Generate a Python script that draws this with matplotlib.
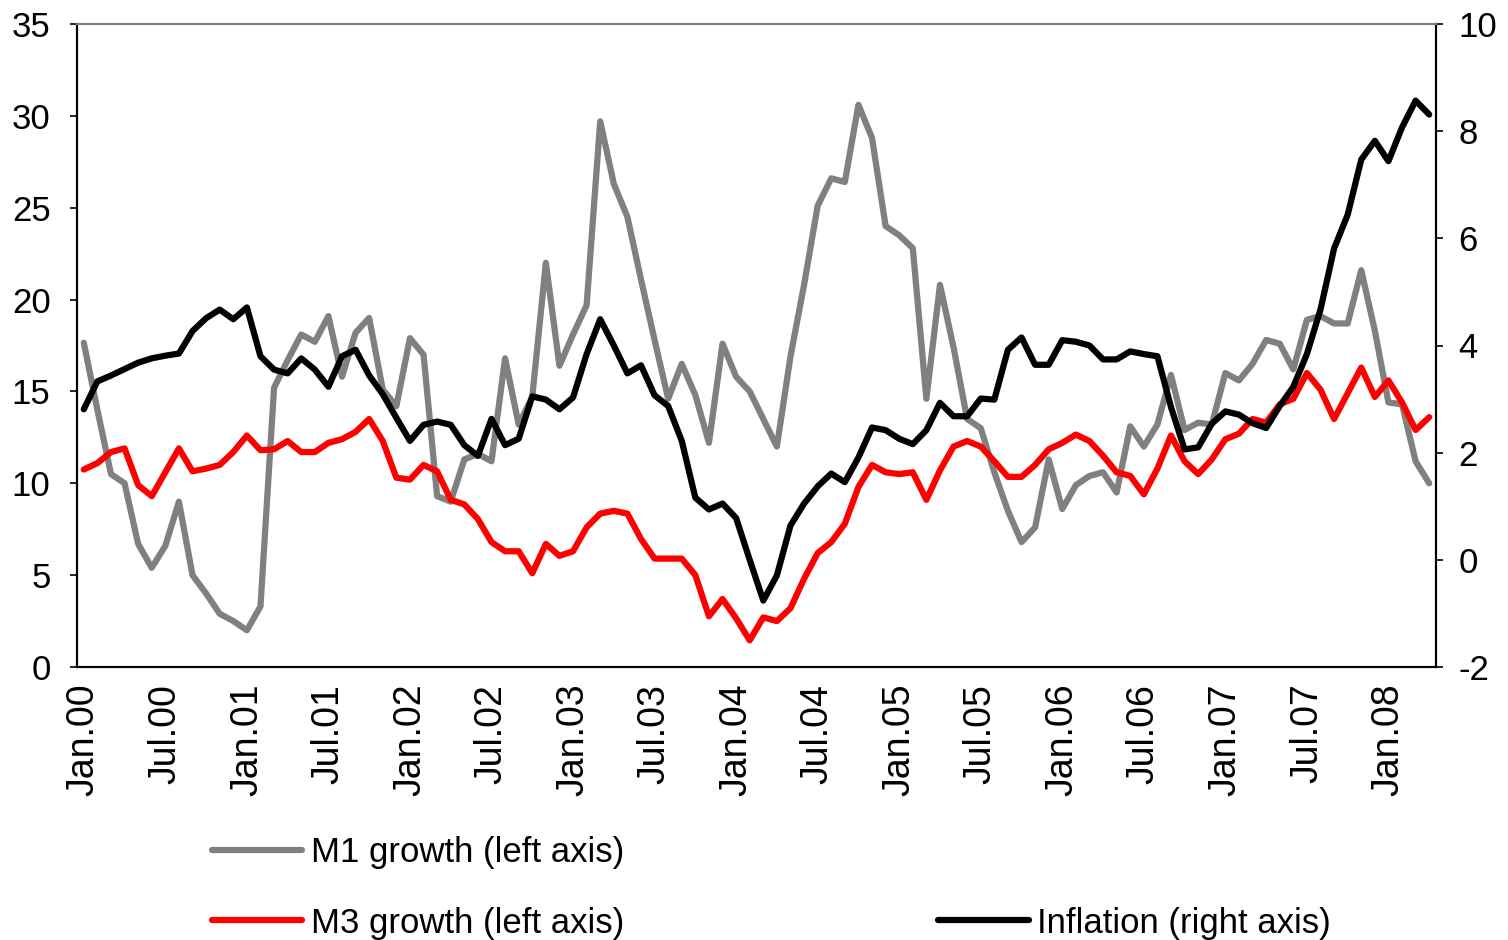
import matplotlib
matplotlib.use("Agg")
import matplotlib.pyplot as plt
import numpy as np

plt.rcParams['font.family'] = ['Liberation Sans', 'DejaVu Sans']
plt.rcParams['font.size'] = 25
plt.rcParams['axes.unicode_minus'] = False

# monthly data, Jan.00 - Apr.08
m1_growth = [17.65, 14.0, 10.5, 10.0, 6.7, 5.4, 6.6, 9.0, 5.0, 4.0,
             2.9, 2.5, 2.0, 3.3, 15.2, 16.7, 18.1, 17.7, 19.1, 15.8,
             18.2, 19.0, 15.1, 14.2, 17.9, 17.0, 9.3, 9.0, 11.3, 11.6,
             11.2, 16.8, 13.2, 14.7, 22.0, 16.4, 18.1, 19.7, 29.7, 26.3,
             24.5, 21.1, 17.8, 14.6, 16.5, 14.8, 12.2, 17.6, 15.8, 15.0,
             13.5, 12.0, 16.9, 20.8, 25.1, 26.6, 26.4, 30.6, 28.8, 24.0,
             23.5, 22.8, 14.6, 20.8, 17.4, 13.5, 13.0, 10.6, 8.5, 6.8,
             7.6, 11.3, 8.6, 9.9, 10.4, 10.6, 9.5, 13.1, 12.0, 13.2,
             15.9, 12.9, 13.3, 13.2, 16.0, 15.6, 16.5, 17.8, 17.6, 16.2,
             18.9, 19.1, 18.7, 18.7, 21.6, 18.3, 14.4, 14.3, 11.2, 10.0]

m3_growth = [10.75, 11.1, 11.7, 11.9, 9.9, 9.3, 10.6, 11.9, 10.65, 10.8,
             11.0, 11.7, 12.6, 11.8, 11.85, 12.3, 11.7, 11.7, 12.2, 12.4,
             12.8, 13.5, 12.3, 10.3, 10.2, 11.0, 10.65, 9.1, 8.85, 8.05,
             6.8, 6.3, 6.3, 5.1, 6.7, 6.05, 6.3, 7.6, 8.35, 8.5,
             8.35, 6.97, 5.9, 5.9, 5.9, 5.0, 2.76, 3.7, 2.65, 1.45,
             2.7, 2.5, 3.2, 4.8, 6.2, 6.8, 7.8, 9.8, 11.0, 10.6,
             10.5, 10.6, 9.1, 10.7, 12.0, 12.3, 12.0, 11.2, 10.35, 10.35,
             11.0, 11.85, 12.2, 12.65, 12.3, 11.5, 10.6, 10.4, 9.4, 10.8,
             12.6, 11.2, 10.5, 11.3, 12.4, 12.7, 13.5, 13.3, 14.3, 14.6,
             16.0, 15.1, 13.5, 14.9, 16.3, 14.7, 15.6, 14.4, 12.9, 13.6]

inflation = [2.81, 3.33, 3.44, 3.56, 3.68, 3.76, 3.81, 3.85, 4.27, 4.51,
             4.67, 4.49, 4.71, 3.80, 3.55, 3.48, 3.76, 3.55, 3.23, 3.80,
             3.92, 3.44, 3.09, 2.65, 2.22, 2.52, 2.58, 2.52, 2.14, 1.94,
             2.63, 2.14, 2.26, 3.05, 2.99, 2.81, 3.03, 3.84, 4.49, 4.0,
             3.48, 3.63, 3.07, 2.87, 2.22, 1.16, 0.94, 1.05, 0.78, 0.0,
             -0.76, -0.29, 0.64, 1.05, 1.37, 1.61, 1.45, 1.91, 2.47, 2.42,
             2.26, 2.16, 2.42, 2.93, 2.68, 2.68, 3.01, 2.99, 3.92, 4.15,
             3.64, 3.64, 4.10, 4.07, 4.0, 3.74, 3.74, 3.89, 3.84, 3.80,
             2.85, 2.06, 2.10, 2.54, 2.77, 2.71, 2.55, 2.46, 2.87, 3.23,
             3.84, 4.67, 5.81, 6.44, 7.47, 7.82, 7.44, 8.07, 8.57, 8.31]

tick_labels = ['Jan.00', 'Jul.00', 'Jan.01', 'Jul.01', 'Jan.02', 'Jul.02',
               'Jan.03', 'Jul.03', 'Jan.04', 'Jul.04', 'Jan.05', 'Jul.05',
               'Jan.06', 'Jul.06', 'Jan.07', 'Jul.07', 'Jan.08']

x = np.arange(len(m1_growth))

fig = plt.figure(figsize=(15.08, 9.4), dpi=100)
ax = fig.add_axes([77/1508, 1 - 667/940, (1436-77)/1508, (667-24)/940])
ax2 = ax.twinx()

l1, = ax.plot(x, m1_growth, color='#808080', lw=4.5, label='M1 growth (left axis)',
              solid_joinstyle='round', solid_capstyle='round')
l2, = ax.plot(x, m3_growth, color='#ff0000', lw=4.5, label='M3 growth (left axis)',
              solid_joinstyle='round', solid_capstyle='round')
l3, = ax2.plot(x, inflation, color='black', lw=4.5, label='Inflation (right axis)',
               solid_joinstyle='round', solid_capstyle='round')

ax.set_xlim(-0.5, len(x) - 0.5)
ax.set_ylim(0, 35)
ax.set_yticks(np.arange(0, 36, 5))
ax2.set_ylim(-2, 10)
ax2.set_yticks(np.arange(-2, 11, 2))

ax.set_xticks(np.arange(0, len(x), 6))
ax.set_xticklabels(tick_labels, rotation=90, fontsize=27)
ax.tick_params(axis='x', length=0, pad=12)
ax.tick_params(axis='y', direction='out', length=5, width=1.2, pad=14)
ax2.tick_params(axis='y', direction='out', length=5, width=1.2, pad=11)

for a in (ax, ax2):
    a.spines['top'].set_color('#808080')
    a.spines['top'].set_linewidth(1.5)
    for s in ('left', 'right', 'bottom'):
        a.spines[s].set_color('black')
        a.spines[s].set_linewidth(1.5)

blank = plt.Line2D([], [], color='none')
leg = fig.legend([l1, l2, blank, l3],
                 ['M1 growth (left axis)', 'M3 growth (left axis)', '', 'Inflation (right axis)'],
                 ncol=2, loc='upper left', bbox_to_anchor=(212/1508, 1 - 836/940),
                 frameon=False, handlelength=2.6, handletextpad=0.25,
                 columnspacing=9.05, labelspacing=1.08, borderpad=0, borderaxespad=0)

fig.savefig('out.png', dpi=100)
